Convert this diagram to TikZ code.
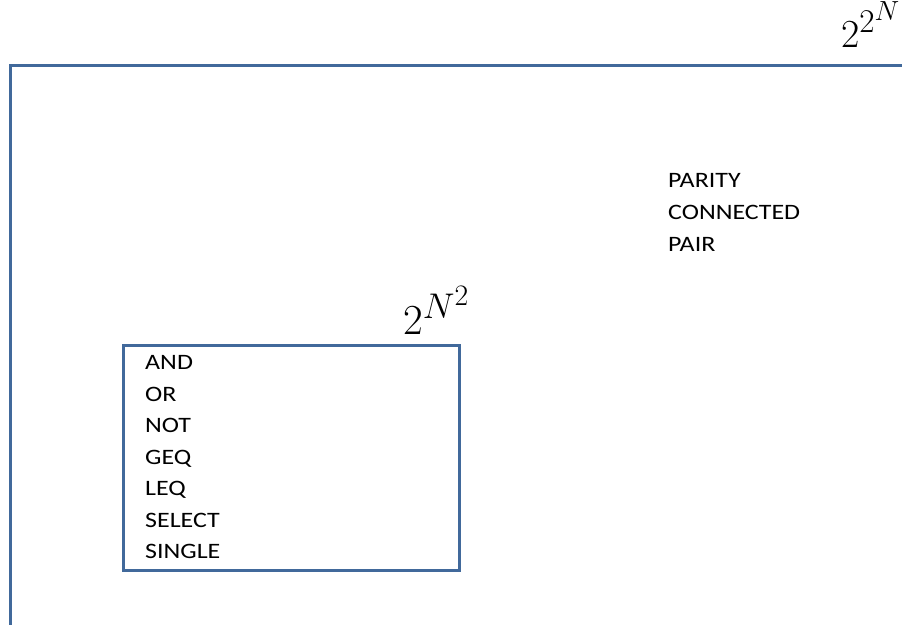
\documentclass[tikz,border=0pt]{standalone}
\usepackage{graphicx}
\usepackage{fontspec}
\setmainfont{Carlito}[FakeStretch=1.18]
\definecolor{setblue}{RGB}{65,105,155}
\newcommand{\bigmath}[2]{\scalebox{#1}{\Huge$#2$}}
\tikzset{
  setline/.style={draw=setblue, line width=3pt},
  member/.style={anchor=base west, inner sep=0pt, font=\fontsize{22}{26}\selectfont},
  setsize/.style={anchor=base west, inner sep=0pt}
}
\begin{document}
\begin{tikzpicture}[x=1pt, y=-1pt]
  \useasboundingbox (0,0) rectangle (902,624);
  \clip (0,0) rectangle (902,624);
  % outer set: all functions
  \draw[setline] (10.5,640) -- (10.5,65) -- (920,65);
  \node[setsize] (outerlabel) at (841,47) {\bigmath{1.6}{2^{2^N}}};
  \node[member] (parity) at (668,187) {PARITY};
  \node[member] (connected) at (668,219) {CONNECTED};
  \node[member] (pair) at (668,251) {PAIR};
  % inner set
  \draw[setline] (123.5,345.5) rectangle (459.5,570);
  \node[setsize] (innerlabel) at (403,334) {\bigmath{1.72}{2^{N^2}}};
  \foreach \name [count=\i from 0] in {AND,OR,NOT,GEQ,LEQ,SELECT,SINGLE}
    \node[member] (m\i) at (145,369.5+31.5*\i) {\name};
\end{tikzpicture}
\end{document}
